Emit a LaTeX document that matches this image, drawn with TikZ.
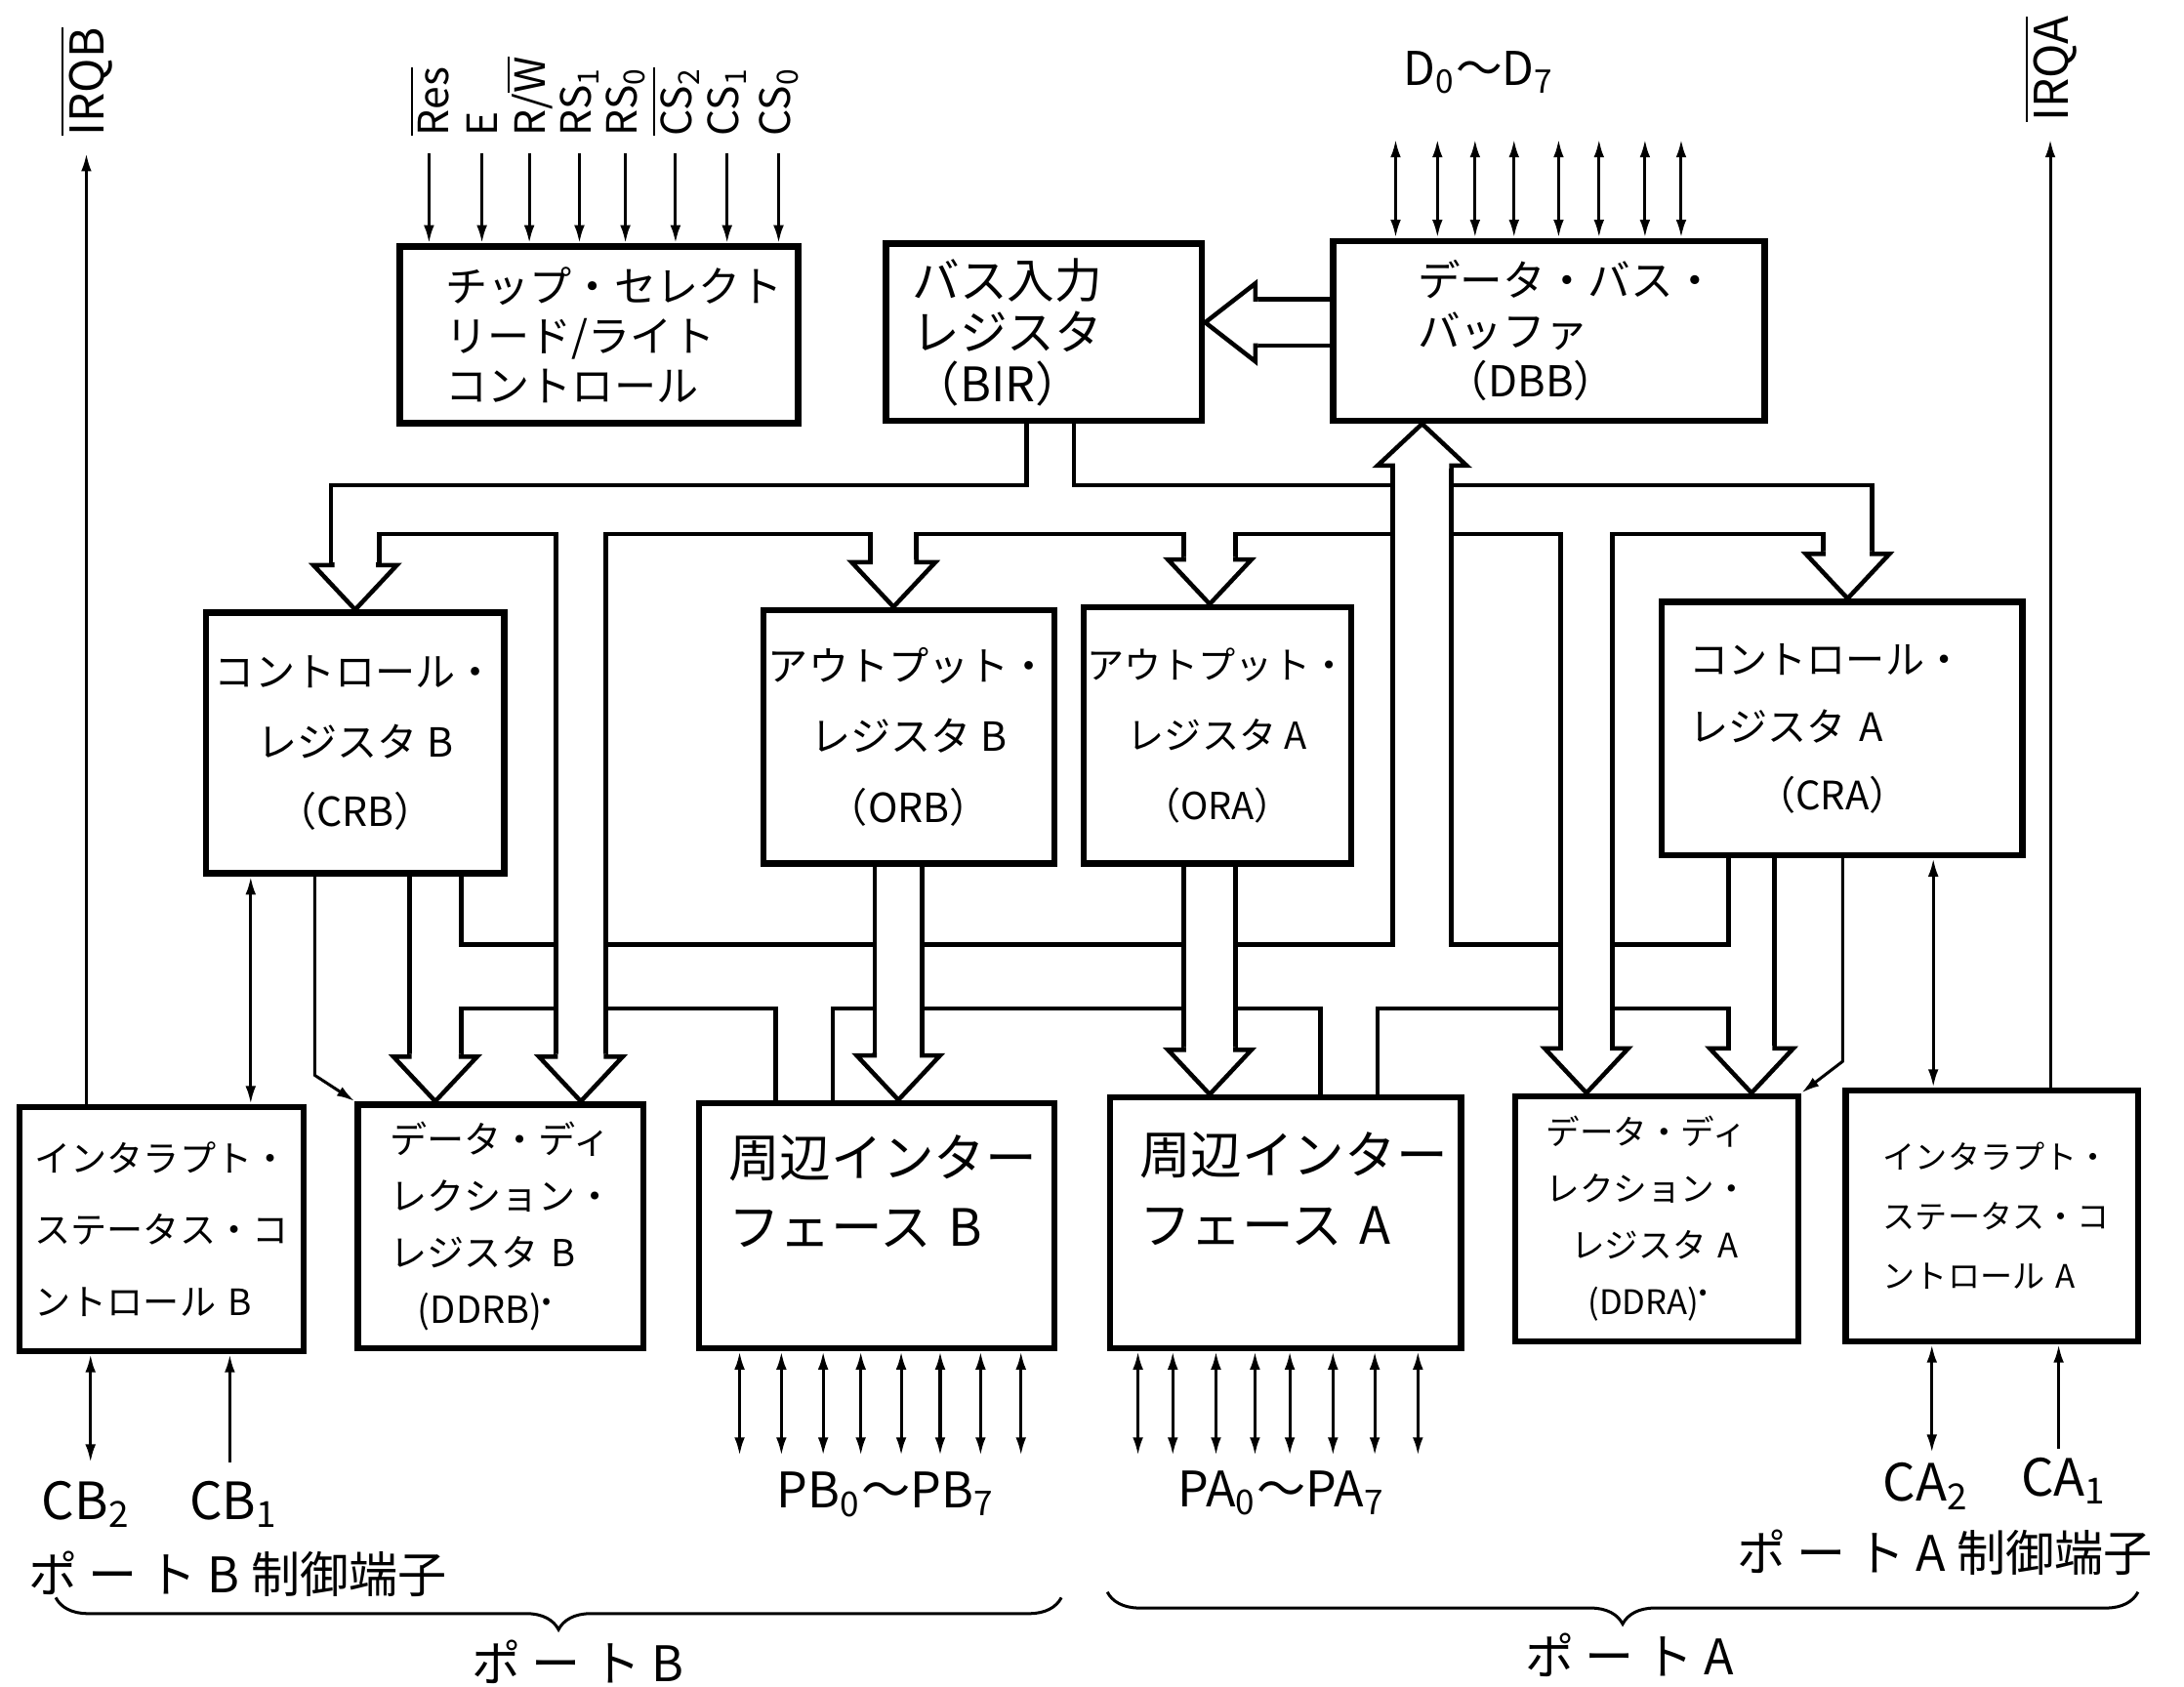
\documentclass[tikz,border=0pt]{standalone}
\usepackage{fontspec}
\setmainfont{Noto Sans CJK JP}
\newfontfamily\widejp[LetterSpace=22]{Noto Sans CJK JP}
\usetikzlibrary{arrows.meta,calc,decorations.pathreplacing}
\pgfdeclarelayer{background}
\pgfsetlayers{background,main}
\newcommand\ovl[1]{$\overline{\mbox{#1}}$}
\newcommand\fs[2]{\fontsize{#1}{#2}\selectfont}
% hollow bus heads: tip, half stem width
\newcommand\headdown[2]{\filldraw[head] ($(#1)+(-#2,-34)$) -- ++(0,2) -- ($(#1)+(-30,-32)$) -- (#1) -- ($(#1)+(30,-32)$) -- ($(#1)+(#2,-32)$) -- ++(0,-2);}
\newcommand\headup[2]{\filldraw[head] ($(#1)+(-#2,32)$) -- ++(0,-2) -- ($(#1)+(-32,30)$) -- (#1) -- ($(#1)+(32,30)$) -- ($(#1)+(#2,30)$) -- ++(0,2);}
\newcommand\headleft[2]{\filldraw[head] ($(#1)+(38,-#2)$) -- ++(-2,0) -- ($(#1)+(36,-28)$) -- (#1) -- ($(#1)+(36,28)$) -- ($(#1)+(36,#2)$) -- ++(2,0);}
\begin{document}
\begin{tikzpicture}[x=0.1mm, y=-0.1mm, >={Latex[length=1.3mm,width=0.75mm]},
    box/.style={draw, line width=1.3pt, fill=white, inner sep=0pt, align=left},
    bus/.style={draw=\bc, line cap=butt, line join=miter, line width={(#1+\bw)*0.1mm}},
    head/.style={draw, fill=white, line width=0.9pt, line join=miter},
    sig/.style={line width=0.6pt},
    lbl/.style={font=\fs{8.5}{10}}]
    \useasboundingbox (0,0) rectangle (1568,1211);

    % blocks
    \node[box, minimum width=28.6mm, minimum height=12.7mm, text width=22mm, font=\fs{8.6}{10.2}] (csc) at (430,240.5) {チップ・セレクト\\リード/ライト\\コントロール};
    \node[box, minimum width=22.7mm, minimum height=12.7mm, text width=18.9mm, font=\fs{9.7}{10.6}] (bir) at (749.5,238.5) {バス入力\\レジスタ\\（BIR）};
    \node[box, minimum width=31mm, minimum height=12.9mm, text width=18.8mm, font=\fs{8.7}{10.3}] (dbb) at (1112,237.5) {データ・バス・\\バッファ\\\hspace*{2mm}（DBB）};
    \node[box, minimum width=21.4mm, minimum height=18.7mm, align=center, font=\fs{8.2}{14.2}] (crb) at (255,533.5) {コントロール・\\レジスタ B\\（CRB）};
    \node[box, minimum width=20.9mm, minimum height=18.2mm, align=center, font=\fs{8.2}{14.4}] (orb) at (652.5,529) {アウトプット・\\レジスタ B\\（ORB）};
    \node[box, minimum width=19.2mm, minimum height=18.4mm, align=center, font=\fs{7.6}{14.4}] (ora) at (874,528) {アウトプット・\\レジスタ A\\（ORA）};
    \node[box, minimum width=25.9mm, minimum height=18.2mm, text width=21.9mm, font=\fs{8}{13.9}] (cra) at (1322.5,523) {コントロール・\\レジスタ A\\\hspace*{4.8mm}（CRA）};
    \node[box, minimum width=20.4mm, minimum height=17.5mm, text width=18.2mm, font=\fs{7.4}{14.7}] (intb) at (116,882.5) {インタラプト・\\ステータス・コ\\ントロール B};
    \node[box, minimum width=20.5mm, minimum height=17.5mm, text width=15.9mm, font=\fs{7.6}{11.6}] (ddrb) at (359.5,880.5) {データ・ディ\\レクション・\\レジスタ B\\\hspace*{2mm}(DDRB)\textsuperscript{•}};
    \node[box, minimum width=25.5mm, minimum height=17.6mm, text width=21.3mm, font=\fs{10.5}{14.2}] (pib) at (629.5,880) {周辺インター\\フェース B\\\mbox{}};
    \node[box, minimum width=25.2mm, minimum height=18mm, text width=21mm, font=\fs{10.5}{14.2}] (pia) at (923,878) {周辺インター\\フェース A\\\mbox{}};
    \node[box, minimum width=20.3mm, minimum height=17.6mm, text width=15.9mm, font=\fs{6.9}{11.6}] (ddra) at (1189.5,875) {データ・ディ\\レクション・\\\hspace*{1.8mm}レジスタ A\\\hspace*{3mm}(DDRA)\textsuperscript{•}};
    \node[box, minimum width=21mm, minimum height=18mm, text width=15.6mm, font=\fs{6.6}{12.2}] (inta) at (1430,873) {インタラプト・\\ステータス・コ\\ントロール A};

    % tips of the wide buses
    \path (641.5,0 |- orb.north) coordinate (orbin) (868.5,0 |- ora.north) coordinate (orain)
          (1326.5,0 |- cra.north) coordinate (crain)
          (312.5,0 |- ddrb.north) coordinate (ddrbl) (417,0 |- ddrb.north) coordinate (ddrbr)
          (645,0 |- pib.north) coordinate (pibin) (868.5,0 |- pia.north) coordinate (piain)
          (1139,0 |- ddra.north) coordinate (ddral) (1257.5,0 |- ddra.north) coordinate (ddrar)
          (1021,0 |- dbb.south) coordinate (dbbin) (bir.east |- 0,231.5) coordinate (birin);

    \begin{pgfonlayer}{background}
    % bus from BIR
    \foreach \bw/\bc in {3.2/black,-3.2/white}{
        \draw[bus=35] (255,410) -- (255,366) -- (1326.5,366) -- (1326.5,402);
        \draw[bus=34] (754,302) -- (754,366);
        \draw[bus=33] (641.5,366) -- (641.5,408);
        \draw[bus=37] (868.5,366) -- (868.5,406);
        \draw[bus=36] (417,366) -- (417,763);
        \draw[bus=37] (1139,366) -- (1139,757);
    }
    % bus to DBB
    \foreach \bw/\bc in {3.2/black,-3.2/white}{
        \draw[bus=46] (312.5,701) -- (1257.5,701);
        \draw[bus=37] (312.5,627) -- (312.5,763);
        \draw[bus=33] (1257.5,614) -- (1257.5,757);
        \draw[bus=42] (1021,330) -- (1021,701);
        \draw[bus=41] (577.5,701) -- (577.5,792);
        \draw[bus=41] (968.5,701) -- (968.5,788);
    }
    % crossings
    \foreach \bw/\bc in {3.2/black,-3.2/white}{
        \draw[bus=34] (645,620) -- (645,762);
        \draw[bus=37] (868.5,620) -- (868.5,758);
        \draw[bus=36] (417,640) -- (417,763);
        \draw[bus=37] (1139,640) -- (1139,757);
        \draw[bus=33] (957,231.5) -- (897,231.5);
    }
    \headdown{crb.north}{16.5}
    \headdown{orbin}{16.5}
    \headdown{orain}{18.5}
    \headdown{crain}{17.5}
    \headdown{ddrbl}{18.5}
    \headdown{ddrbr}{18}
    \headdown{pibin}{17}
    \headdown{piain}{18.5}
    \headdown{ddral}{18.5}
    \headdown{ddrar}{16.5}
    \headup{dbbin}{21}
    \headleft{birin}{16.5}
    \end{pgfonlayer}

    % control inputs
    \foreach \x/\lab [count=\i] in {308/{\ovl{Res}},346/E,380/{R/\ovl{W}},416/{RS\textsubscript{1}},449/{RS\textsubscript{0}},485/{\ovl{CS\textsubscript{2}}},522/{CS\textsubscript{1}},559/{CS\textsubscript{0}}}{
        \node[lbl, rotate=90, anchor=west] (in\i) at (\x,110) {\lab};
        \draw[sig,->] (in\i.west) -- (in\i.west |- csc.north);
    }
    \node[lbl, rotate=90, anchor=west, font=\fs{9.5}{11}] (irqb) at (62,110) {\ovl{IRQB}};
    \draw[sig,->] (irqb.west |- intb.north) -- (irqb.west);
    \node[lbl, rotate=90, anchor=west, font=\fs{9.5}{11}] (irqa) at (1472,100) {\ovl{IRQA}};
    \draw[sig,->] (irqa.west |- inta.north) -- (irqa.west);

    % data bus
    \node[font=\fs{9.5}{11}] (dlab) at (1062,52) {D\textsubscript{0}～D\textsubscript{7}};
    \foreach \x in {1002,1032,1059,1087,1119,1148,1181,1207}
        \draw[sig,<->] (\x,100) -- (\x,0 |- dbb.north);

    % control lines between blocks
    \draw[sig,<->] (180,0 |- crb.south) -- (180,0 |- intb.north);
    \draw[sig,<->] (1388,0 |- cra.south) -- (1388,0 |- inta.north);
    \draw[sig,->] (226,0 |- crb.south) -- (226,772) -- (ddrb.north west);
    \draw[sig,->] (1323,0 |- cra.south) -- (1323,762) -- (ddra.north east);

    % port lines
    \foreach \x in {531,561,591,618,647,675,704,733}
        \draw[sig,<->] (\x,0 |- pib.south) -- (\x,1045);
    \foreach \x in {817,842,873,901,926,957,987,1018}
        \draw[sig,<->] (\x,0 |- pia.south) -- (\x,1045);
    \node[font=\fs{10}{12}] (pblab) at (636,1073) {PB\textsubscript{0}～PB\textsubscript{7}};
    \node[font=\fs{10}{12}] (palab) at (920,1072) {PA\textsubscript{0}～PA\textsubscript{7}};

    \draw[sig,<->] (65,0 |- intb.south) -- (65,1050);
    \draw[sig,->] (165,1050) -- (165,0 |- intb.south);
    \draw[sig,<->] (1387,0 |- inta.south) -- (1387,1043);
    \draw[sig,->] (1478,1040) -- (1478,0 |- inta.south);
    \node[font=\fs{10.5}{12}] (cb2) at (62,1080) {CB\textsubscript{2}};
    \node[font=\fs{10.5}{12}] (cb1) at (168,1080) {CB\textsubscript{1}};
    \node[font=\fs{10.5}{12}] (ca2) at (1383,1067) {CA\textsubscript{2}};
    \node[font=\fs{10.5}{12}] (ca1) at (1482,1063) {CA\textsubscript{1}};

    \node[anchor=west, font=\fs{10}{12}] (pbctl) at (8,1130) {{\widejp ポート} B 制御端子};
    \node[anchor=east, font=\fs{10}{12}] (pactl) at (1558,1115) {{\widejp ポート} A 制御端子};
    \draw[sig, decorate, decoration={brace, mirror, amplitude=2.3mm}] (40,1147) -- (762,1147);
    \draw[sig, decorate, decoration={brace, mirror, amplitude=2.3mm}] (795,1143) -- (1535,1143);
    \node[font=\fs{10}{12}] (pbport) at (415,1193) {{\widejp ポート} B};
    \node[font=\fs{10}{12}] (paport) at (1170,1188) {{\widejp ポート} A};
\end{tikzpicture}
\end{document}
